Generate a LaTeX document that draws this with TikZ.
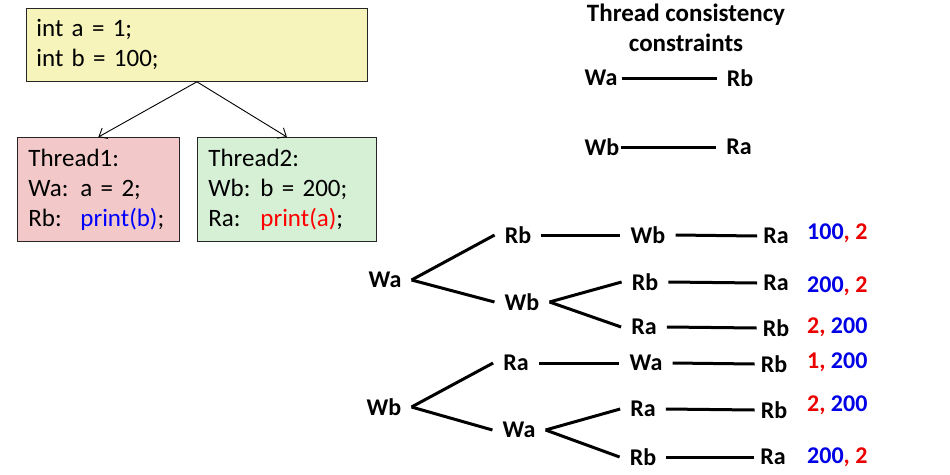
\documentclass[tikz,border=0pt]{standalone}
\usepackage{fontspec}
\setmainfont{Carlito}
\usepackage{xcolor}
\usepackage{tikz}
\usetikzlibrary{arrows.meta}
\definecolor{boxyellow}{RGB}{246,244,187}
\definecolor{boxpink}{RGB}{242,200,200}
\definecolor{boxgreen}{RGB}{214,240,214}
\definecolor{valblue}{RGB}{0,0,230}
\definecolor{valred}{RGB}{235,0,0}
\tikzstyle{codebox} = [draw=black!85, line width=0.8pt, rectangle, anchor=north west, align=left, inner xsep=10pt, font=\fontsize{25}{30}\selectfont]
\tikzstyle{opnode} = [font=\bfseries\fontsize{24}{28}\selectfont, inner xsep=10pt, inner ysep=2pt]
\tikzstyle{link} = [line width=3pt]
\tikzstyle{valnode} = [font=\bfseries\fontsize{24}{28}\selectfont, anchor=west, inner sep=0pt]
\newcommand{\lbl}[1]{\makebox[52pt][l]{#1}}

\begin{document}
\begin{tikzpicture}[x=1pt, y=-1pt]
\useasboundingbox (0,0) rectangle (950,474);

% the program and its two threads
\node [codebox, fill=boxyellow, text width=321pt, minimum height=73pt] (init) at (26,8) {%
    int a = 1;\\
    int b = 100;};
\node [codebox, fill=boxpink, text width=140pt, minimum height=104pt, inner xsep=11pt] (thread1) at (17,137) {%
    Thread1:\\
    \lbl{Wa:}a = 2;\\
    \lbl{Rb:}\textcolor{blue}{print(b)};};
\node [codebox, fill=boxgreen, text width=157pt, minimum height=104pt, inner xsep=11pt] (thread2) at (197,137) {%
    Thread2:\\
    \lbl{Wb:}b = 200;\\
    \lbl{Ra:}\textcolor{red}{print(a)};};
\draw [-{Straight Barb[length=7pt,width=12pt]}, line width=0.9pt] (init.south) -- (thread1.north);
\draw [-{Straight Barb[length=7pt,width=12pt]}, line width=0.9pt] (init.south) -- (thread2.north);

% constraints
\node [font=\bfseries\fontsize{25}{30}\selectfont, align=center] (title) at (686,28) {Thread consistency\\constraints};
\node [opnode, inner xsep=4pt] (cwa) at (601,78) {Wa};
\node [opnode] (crb) at (740,78) {Rb};
\node [opnode, inner xsep=1pt] (cwb) at (602,147) {Wb};
\node [opnode] (cra) at (739,147) {Ra};
\draw [link] (cwa.east) -- (crb.west);
\draw [link] (cwb.east) -- (cra.west);

% orders starting with Wa
\node [opnode] (wa) at (385,280) {Wa};
\node [opnode] (rb1) at (518,235) {Rb};
\node [opnode] (wb1) at (522,302) {Wb};
\node [opnode] (wb2) at (648,235) {Wb};
\node [opnode] (rb2) at (645,282) {Rb};
\node [opnode] (ra2) at (644,327) {Ra};
\node [opnode, inner xsep=6pt] (ra3) at (776,236) {Ra};
\node [opnode, inner xsep=6pt] (ra3b) at (776,283) {Ra};
\node [opnode, inner xsep=6pt] (rb3) at (776,328) {Rb};
\draw [link] (wa.east) -- (rb1.west);
\draw [link] (wa.east) -- (wb1.west);
\draw [link] (rb1.east) -- (wb2.west);
\draw [link] (wb2.east) -- (ra3.west);
\draw [link] (wb1.east) -- (rb2.west);
\draw [link] (wb1.east) -- (ra2.west);
\draw [link] (rb2.east) -- (ra3b.west);
\draw [link] (ra2.east) -- (rb3.west);
\node [valnode] (v1) at (807,233) {\textcolor{valblue}{100}\textcolor{valred}{, 2}};
\node [valnode] (v2) at (807,286) {\textcolor{valblue}{200}\textcolor{valred}{, 2}};
\node [valnode] (v3) at (807,327) {\textcolor{valred}{2,} \textcolor{valblue}{200}};

% orders starting with Wb
\node [opnode] (wb) at (384,407) {Wb};
\node [opnode] (ra1) at (516,363) {Ra};
\node [opnode] (wa1) at (519,430) {Wa};
\node [opnode] (wa2) at (646,363) {Wa};
\node [opnode] (ra2b) at (643,409) {Ra};
\node [opnode] (rb2b) at (643,457) {Rb};
\node [opnode, inner xsep=6pt] (rb3c) at (774,364) {Rb};
\node [opnode, inner xsep=6pt] (rb3d) at (774,410) {Rb};
\node [opnode, inner xsep=6pt] (ra3e) at (773,457) {Ra};
\draw [link] (wb.east) -- (ra1.west);
\draw [link] (wb.east) -- (wa1.west);
\draw [link] (ra1.east) -- (wa2.west);
\draw [link] (wa2.east) -- (rb3c.west);
\draw [link] (wa1.east) -- (ra2b.west);
\draw [link] (wa1.east) -- (rb2b.west);
\draw [link] (ra2b.east) -- (rb3d.west);
\draw [link] (rb2b.east) -- (ra3e.west);
\node [valnode] (v4) at (807,362) {\textcolor{valred}{1,} \textcolor{valblue}{200}};
\node [valnode] (v5) at (807,405) {\textcolor{valred}{2,} \textcolor{valblue}{200}};
\node [valnode] (v6) at (807,457) {\textcolor{valblue}{200}\textcolor{valred}{, 2}};
\end{tikzpicture}
\end{document}
